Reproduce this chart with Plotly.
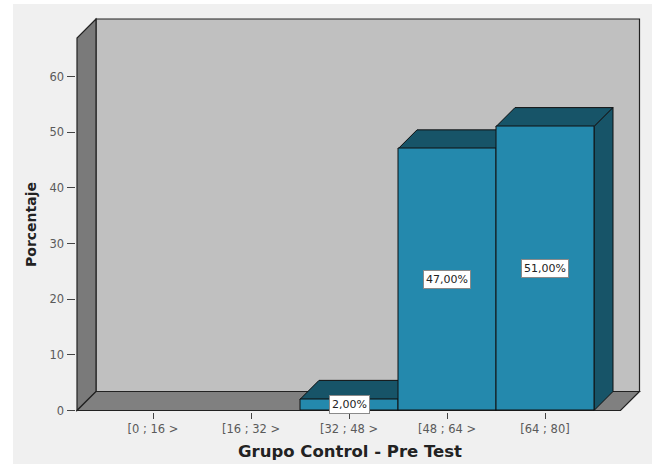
import plotly.graph_objects as go

# ---- data -------------------------------------------------------------
categories = ["[0 ; 16 >", "[16 ; 32 >", "[32 ; 48 >", "[48 ; 64 >", "[64 ; 80]"]
percentages = [0, 0, 2, 47, 51]
y_tick_values = [0, 10, 20, 30, 40, 50, 60]

# ---- styling -------------------------------------------------------------
FRONT = "#2489ad"
SHADE = "#175468"
BACK_WALL = "#c0c0c0"
SIDE_WALL = "#7a7a7a"
FLOOR = "#808080"
EDGE = "#222222"
PAGE = "#f0f0f0"
FONT = "DejaVu Sans, Verdana, sans-serif"

FIG_W, FIG_H = 658, 464
DRAW_H = 458              # vertical extent used for paper fractions

# pixel geometry of the pseudo-3D box
CAT_PITCH = 98.0          # px per category
CAT0_PX = 153.0           # centre of first category
UNIT_PX = 334.0 / 60.0    # px per percentage point
ZERO_PX = 410.5           # baseline (from top)
DEPTH_PX = 19.0           # oblique depth offset
BOX_LEFT, BOX_RIGHT, BOX_TOP = 77.0, 639.5, 19.0
PAD = 1.5

def px_to_x(px):
    return (px - CAT0_PX) / CAT_PITCH

def px_to_y(py):
    return (ZERO_PX - py) / UNIT_PX

def fx(px):
    return px / FIG_W

def fy(py):
    return 1 - py / DRAW_H

dom_l, dom_r = BOX_LEFT - PAD, BOX_RIGHT + PAD
dom_t, dom_b = BOX_TOP - PAD, ZERO_PX + PAD

x_range = [px_to_x(dom_l), px_to_x(dom_r)]
y_range = [px_to_y(dom_b), px_to_y(dom_t)]

xmin, xmax = px_to_x(BOX_LEFT), px_to_x(BOX_RIGHT)
ymax = px_to_y(BOX_TOP)
dx = DEPTH_PX / CAT_PITCH
dy = DEPTH_PX / UNIT_PX


def poly(points, fill, line=EDGE, width=1.2):
    d = "M " + " L ".join(f"{x},{y}" for x, y in points) + " Z"
    return dict(type="path", path=d, xref="x", yref="y", fillcolor=fill,
                line=dict(color=line, width=width), layer="below")


shapes = []
# page background panel
shapes.append(dict(type="rect", xref="paper", yref="paper",
                   x0=fx(13), x1=fx(652), y0=-0.05, y1=fy(4),
                   fillcolor=PAGE, line=dict(width=0), layer="below"))
# back wall
shapes.append(poly([(xmin + dx, dy), (xmax, dy), (xmax, ymax), (xmin + dx, ymax)], BACK_WALL))
# left wall
shapes.append(poly([(xmin, 0), (xmin, ymax - dy), (xmin + dx, ymax), (xmin + dx, dy)], SIDE_WALL))
# floor
shapes.append(poly([(xmin, 0), (xmax - dx, 0), (xmax, dy), (xmin + dx, dy)], FLOOR))

# top and side faces of each bar
for i, v in enumerate(percentages):
    if v <= 0:
        continue
    l, r = i - 0.5, i + 0.5
    shapes.append(poly([(l, v), (l + dx, v + dy), (r + dx, v + dy), (r, v)], SHADE, "#111111", 1))
    shapes.append(poly([(r, 0), (r, v), (r + dx, v + dy), (r + dx, dy)], SHADE, "#111111", 1))

fig = go.Figure()
fig.add_trace(go.Bar(
    x=list(range(len(categories))),
    y=[v if v > 0 else None for v in percentages],
    width=1,
    marker=dict(color=FRONT, line=dict(color="#111111", width=1)),
    hoverinfo="skip", showlegend=False,
))

annotations = []
for i, v in enumerate(percentages):
    if v <= 0:
        continue
    annotations.append(dict(
        x=i, y=v / 2, xref="x", yref="y", xanchor="center", yanchor="middle",
        text=f"{v:.2f}%".replace(".", ","), showarrow=False,
        font=dict(family=FONT, size=11, color="#222222"),
        bgcolor="white", bordercolor="#8a8a8a", borderwidth=1, borderpad=2,
    ))

annotations.append(dict(
    x=fx(350), y=fy(451), xref="paper", yref="paper",
    xanchor="center", yanchor="middle",
    text="<b>Grupo Control - Pre Test</b>", showarrow=False,
    font=dict(family=FONT, size=16.5, color="#222222"),
))
annotations.append(dict(
    x=fx(31), y=fy(225), xref="paper", yref="paper",
    xanchor="center", yanchor="middle",
    text="<b>Porcentaje</b>", showarrow=False, textangle=-90,
    font=dict(family=FONT, size=14, color="#222222"),
))

tick_font = dict(family=FONT, size=11.5, color="#5a5a5a")

fig.update_layout(
    width=FIG_W, height=FIG_H,
    margin=dict(l=0, r=0, t=0, b=0),
    paper_bgcolor="white", plot_bgcolor="rgba(0,0,0,0)",
    shapes=shapes, annotations=annotations,
    bargap=0,
    xaxis=dict(
        domain=[fx(dom_l), fx(dom_r)], range=x_range,
        tickvals=list(range(len(categories))), ticktext=categories,
        ticks="outside", ticklen=6, tickcolor="#444444", tickwidth=1,
        showgrid=False, zeroline=False, showline=False,
        tickfont=tick_font, fixedrange=True,
    ),
    yaxis=dict(
        domain=[fy(dom_b), fy(dom_t)], range=y_range,
        tickvals=y_tick_values, ticks="outside", ticklen=8,
        tickcolor="#444444", tickwidth=1,
        showgrid=False, zeroline=False, showline=False,
        tickfont=tick_font, fixedrange=True,
    ),
)

fig.write_html("out.html")
